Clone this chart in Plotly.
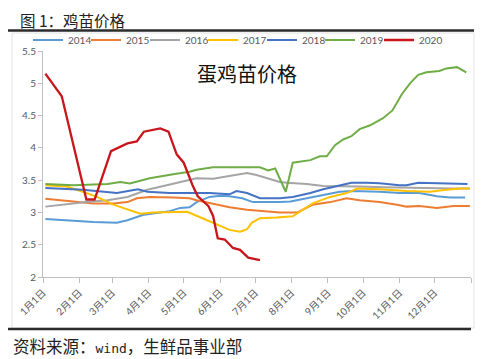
import pandas as pd
import plotly.graph_objects as go

# ---- data (day-of-year offsets from Jan 1) ----
years = ["2014", "2015", "2016", "2017", "2018", "2019", "2020"]
colors = ["#5B9BD5", "#ED7D31", "#A5A5A5", "#FFC000", "#4472C4", "#70AD47", "#C8161D"]

d2014 = [2, 23, 43, 63, 72, 85, 100, 108, 117, 125, 131, 142, 151, 159, 170, 179, 202, 211, 225, 239, 253, 264, 287, 304, 321, 336, 347, 360]
v2014 = [2.90, 2.87, 2.85, 2.84, 2.88, 2.96, 3.00, 3.02, 3.07, 3.08, 3.16, 3.24, 3.26, 3.25, 3.22, 3.16, 3.16, 3.17, 3.22, 3.27, 3.32, 3.33, 3.32, 3.30, 3.30, 3.25, 3.23, 3.23]

d2015 = [2, 14, 26, 43, 60, 72, 80, 91, 111, 125, 131, 145, 159, 174, 188, 202, 217, 230, 245, 259, 270, 287, 302, 310, 321, 336, 350, 364]
v2015 = [3.21, 3.19, 3.16, 3.14, 3.14, 3.16, 3.22, 3.24, 3.23, 3.22, 3.19, 3.14, 3.08, 3.04, 3.02, 3.00, 3.00, 3.12, 3.16, 3.22, 3.19, 3.16, 3.12, 3.09, 3.10, 3.07, 3.10, 3.10]

d2016 = [2, 20, 37, 55, 72, 89, 106, 117, 125, 131, 145, 159, 174, 182, 194, 202, 208, 225, 239, 253, 270, 290, 310, 330, 350, 364]
v2016 = [3.09, 3.13, 3.16, 3.19, 3.24, 3.35, 3.42, 3.47, 3.50, 3.53, 3.52, 3.56, 3.61, 3.58, 3.52, 3.47, 3.46, 3.44, 3.41, 3.41, 3.40, 3.39, 3.38, 3.38, 3.37, 3.37]

d2017 = [2, 20, 34, 46, 60, 72, 83, 94, 108, 123, 136, 148, 159, 168, 174, 178, 185, 199, 213, 219, 230, 245, 259, 268, 287, 310, 330, 344, 356, 364]
v2017 = [3.42, 3.40, 3.32, 3.24, 3.12, 3.05, 2.98, 3.00, 3.01, 3.01, 2.91, 2.81, 2.73, 2.70, 2.74, 2.84, 2.91, 2.92, 2.94, 3.01, 3.14, 3.24, 3.30, 3.37, 3.36, 3.33, 3.32, 3.35, 3.37, 3.37]

d2018 = [2, 34, 63, 81, 89, 108, 125, 142, 159, 165, 174, 185, 202, 213, 228, 239, 251, 263, 276, 287, 304, 310, 320, 338, 356, 362]
v2018 = [3.38, 3.35, 3.30, 3.36, 3.32, 3.30, 3.30, 3.30, 3.28, 3.33, 3.30, 3.22, 3.22, 3.24, 3.30, 3.36, 3.41, 3.46, 3.46, 3.45, 3.42, 3.42, 3.46, 3.45, 3.45, 3.44]

d2019 = [2, 26, 55, 66, 74, 91, 111, 125, 131, 145, 159, 185, 192, 198, 207, 213, 228, 236, 242, 249, 256, 263, 270, 279, 290, 298, 306, 313, 320, 327, 338, 344, 353, 361]
v2019 = [3.44, 3.42, 3.44, 3.47, 3.45, 3.53, 3.59, 3.63, 3.66, 3.70, 3.70, 3.70, 3.65, 3.68, 3.32, 3.77, 3.81, 3.87, 3.87, 4.04, 4.13, 4.18, 4.29, 4.35, 4.46, 4.58, 4.83, 5.00, 5.13, 5.17, 5.19, 5.23, 5.25, 5.17]

d2020 = [2, 16, 37, 44, 58, 64, 72, 80, 86, 100, 107, 114, 120, 128, 132, 141, 145, 149, 155, 162, 168, 175, 185]
v2020 = [5.15, 4.80, 3.20, 3.20, 3.95, 4.00, 4.07, 4.10, 4.25, 4.30, 4.25, 3.90, 3.77, 3.40, 3.25, 3.10, 2.95, 2.60, 2.58, 2.45, 2.42, 2.30, 2.26]

days = [d2014, d2015, d2016, d2017, d2018, d2019, d2020]
vals = [v2014, v2015, v2016, v2017, v2018, v2019, v2020]

month_ticks = ["1月1日", "2月1日", "3月1日", "4月1日", "5月1日", "6月1日",
               "7月1日", "8月1日", "9月1日", "10月1日", "11月1日", "12月1日"]
y_ticks = [2, 2.5, 3, 3.5, 4, 4.5, 5, 5.5]

base = pd.Timestamp("2019-01-01")


def to_dates(ds):
    return [base + pd.Timedelta(days=d) for d in ds]


# page has an 8px body margin: figure drawn in page coordinates minus OFF
OFF = 8
W, H = 500 - OFF, 359 - OFF
L, R, T, B = 43 - OFF, 471 - OFF, 51 - OFF, 277 - OFF


def px(x):  # page x -> paper
    return (x - OFF - L) / (R - L)


def py(y):  # page y -> paper
    return (B - (y - OFF)) / (B - T)


legend_text_x = [68, 126, 185, 243, 302, 360, 419]  # page x where legend labels start

fig = go.Figure()
for i, (name, c, ds, vs) in enumerate(zip(years, colors, days, vals)):
    fig.add_trace(go.Scatter(
        x=to_dates(ds), y=vs, mode="lines", name=name,
        line=dict(color=c, width=2.3 if name == "2020" else 2),
        legend="legend" if i == 0 else f"legend{i + 1}",
    ))

tickvals = [pd.Timestamp(2019, m, 1) for m in range(1, 13)] + [pd.Timestamp(2020, 1, 1)]
ticktext = month_ticks + [""]

axis_font = dict(family="Lato, Noto Sans CJK SC, sans-serif", size=10, color="#595959")

legends = {}
for i, tx in enumerate(legend_text_x):
    key = "legend" if i == 0 else f"legend{i + 1}"
    legends[key] = dict(orientation="h", x=px(tx - 40), y=py(40), xanchor="left", yanchor="middle",
                        font=dict(size=10, color="#595959", family="Lato, sans-serif"),
                        itemwidth=30, bgcolor="rgba(0,0,0,0)")

fig.update_layout(
    width=W, height=H,
    margin=dict(l=L, r=W - R, t=T, b=H - B, pad=0, autoexpand=False),
    paper_bgcolor="white", plot_bgcolor="white",
    font=dict(family="Lato, Noto Sans CJK SC, sans-serif", color="#595959", size=10),
    showlegend=True,
    **legends,
    xaxis=dict(
        type="date", range=[pd.Timestamp(2019, 1, 1), pd.Timestamp(2020, 1, 1)],
        tickmode="array", tickvals=tickvals, ticktext=ticktext,
        tickangle=-45, tickfont=axis_font, automargin=False,
        showgrid=False, zeroline=False, showline=True, linecolor="#BFBFBF", linewidth=1,
        ticks="outside", ticklen=5, tickcolor="#BFBFBF",
    ),
    yaxis=dict(
        range=[2, 5.5], tickmode="array", tickvals=y_ticks, automargin=False,
        tickfont=axis_font, showgrid=False, zeroline=False,
        showline=True, linecolor="#BFBFBF", linewidth=1,
        ticks="outside", ticklen=4, tickcolor="#BFBFBF",
    ),
    shapes=[
        dict(type="rect", xref="paper", yref="paper", x0=px(12), x1=px(474), y0=py(328), y1=py(33),
             line=dict(color="#E3E3E3", width=1), layer="below"),
        dict(type="line", xref="paper", yref="paper", x0=px(8), x1=px(474), y0=py(30.5), y1=py(30.5),
             line=dict(color="#2B2B2B", width=2.5)),
        dict(type="line", xref="paper", yref="paper", x0=px(8), x1=px(471), y0=py(329), y1=py(329),
             line=dict(color="#2B2B2B", width=2.5)),
    ],
    annotations=[
        dict(text="图 1：鸡苗价格", xref="paper", yref="paper", x=px(19), y=py(20.5),
             xanchor="left", yanchor="middle", showarrow=False, borderpad=0,
             font=dict(family="Noto Sans CJK SC", size=15.5, color="#222222")),
        dict(text="蛋鸡苗价格", xref="paper", yref="paper", x=px(247), y=py(73),
             xanchor="center", yanchor="middle", showarrow=False,
             font=dict(family="Noto Sans CJK SC", size=20, color="#111111")),
        dict(text="资料来源：<span style='font-family:DejaVu Sans Mono;font-size:13px'>wind</span>，生鲜品事业部",
             xref="paper", yref="paper", x=px(11), y=py(346),
             xanchor="left", yanchor="middle", showarrow=False,
             font=dict(family="Noto Sans CJK SC", size=16.5, color="#222222")),
    ],
)

fig.write_html("out.html")
